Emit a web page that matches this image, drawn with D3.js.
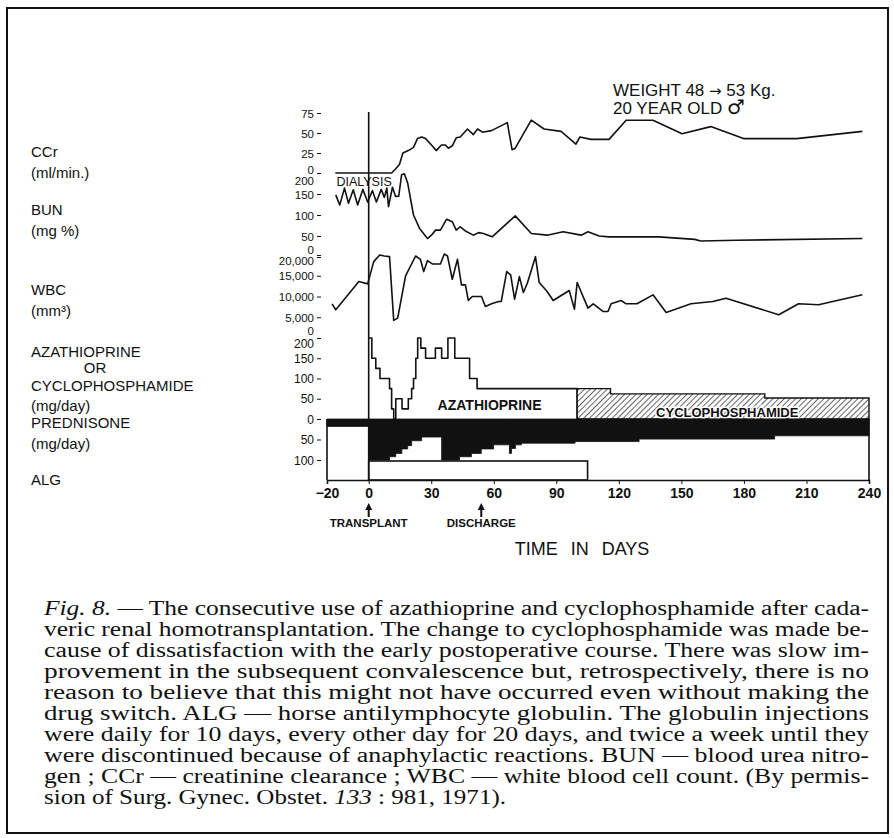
<!DOCTYPE html>
<html>
<head>
<meta charset="utf-8">
<script src="https://cdn.jsdelivr.net/npm/d3@7"></script>
<style>
  body { margin: 0; background: #fff; }
  text { font-family: "Liberation Sans", Arial, sans-serif; fill: #111; }
  .cap { font-family: "Liberation Serif", "Times New Roman", serif; font-size: 20px; }
</style>
</head>
<body>
<div id="chart"></div>
<script>
// ---- data ----
const ccrDays = [-16, 11, 12.9, 14.8, 16.4, 19, 21.5, 23.4, 25.4, 27.3, 29.8, 32.4, 34.9, 36.8, 38.2, 40.1, 42, 43.9, 47.4, 50.2, 52.2, 54.6, 58.9, 66.5, 68.8, 70.3, 78, 84.1, 92.3, 99.4, 101.3, 106.7, 115.3, 123.5, 136.4, 150.3, 164.1, 179.8, 205.3, 236.8];
const ccrValues = [0, 0, 5, 11, 25, 28, 32, 43, 45, 43, 36, 28, 35, 35, 31, 34, 44, 45, 55, 48, 55, 51, 53, 63, 29, 31, 66, 55, 52, 36, 45, 42, 42, 66, 66, 49, 58, 43, 43, 52];

const bunDays = [-15.8, -13.9, -11.6, -9.7, -7.4, -5.3, -2.8, -0.5, 1.8, 3.7, 6, 7.5, 8.7, 9.5, 11.4, 12.9, 14.4, 15.8, 17.1, 18.7, 21.5, 24.4, 28.2, 30.1, 32.1, 34.4, 37.4, 40.1, 42, 43.9, 46.4, 50.2, 52.7, 55, 59.2, 70.3, 78, 85.6, 93.3, 101.9, 105.2, 110.5, 115.3, 139.2, 156.4, 159.3, 176.5, 236.8];
const bunValues = [148, 124, 164, 128, 160, 124, 161, 131, 158, 131, 161, 142, 164, 120, 166, 144, 145, 196, 198, 176, 100, 68, 44, 52, 64, 64, 90, 84, 64, 72, 62, 52, 58, 56, 48, 98, 56, 52, 60, 52, 60, 50, 48, 48, 42, 38, 40, 44];

const wbcDays = [-17.6, -15.8, -4.7, -0.5, 2.4, 5.3, 7.5, 10, 12, 13.9, 17.7, 22.5, 24.8, 26.4, 28.2, 30.5, 34.4, 36.3, 37.8, 40.1, 42.6, 44.5, 46.4, 47.8, 49.7, 54.1, 56, 58.9, 62.3, 63.6, 66.2, 68.1, 70, 72.3, 74.2, 76.1, 80, 81.8, 85.6, 88.5, 96.2, 98.7, 100, 105.2, 107.7, 112.4, 114.8, 116.3, 121.1, 123.5, 128.7, 136.4, 142.7, 154.6, 165.1, 171.4, 196.7, 206.2, 215.8, 236.8];
const wbcValues = [8240, 6800, 13600, 13040, 18400, 20000, 19760, 19600, 4240, 4800, 14960, 19760, 18960, 16000, 18640, 17840, 17840, 20240, 19760, 14160, 18960, 12800, 12800, 9040, 10000, 10000, 7600, 8240, 8800, 8800, 16000, 15200, 9360, 14800, 10960, 13200, 19600, 13360, 11200, 9040, 11440, 6960, 13360, 7200, 8240, 6400, 6400, 8240, 9040, 8240, 8240, 10400, 6160, 8240, 8800, 9600, 5600, 8240, 8000, 10400];

// step series: value holds from this day until the next
const azaDays = [0, 1.5, 3.4, 5.4, 10, 11, 12, 13, 16, 19, 20.6, 21.5, 22.6, 23.5, 25, 27.3, 32, 35, 38, 41.3, 44.6, 48.4, 52, 100];
const azaValues = [200, 150, 125, 100, 75, 25, 0, 50, 25, 50, 75, 100, 150, 200, 175, 150, 175, 150, 200, 150, 150, 100, 75, 75];
const cycDays = [100, 116, 190, 240];
const cycValues = [75, 62, 52, 52];
const predDays = [-20, 0, 10, 13, 15.9, 18.7, 20.6, 25.4, 35, 43.6, 49.3, 54, 59.9, 67.5, 68.5, 70.4, 73.3, 80, 99, 129.7, 194.7, 240];
const predValues = [18, 100, 92, 84, 73, 65, 53, 44, 100, 92, 84, 73, 63, 84, 72, 63, 59, 59, 55, 49, 41, 41];
const algDays = [0, 105];

const dayTicks = [-20, 0, 30, 60, 90, 120, 150, 180, 210, 240];
const ccrTicks = [0, 25, 50, 75];
const bunTicks = [0, 50, 100, 150, 200];
const wbcTicks = [0, 5000, 10000, 15000, 20000];
const azaTicks = [0, 50, 100, 150, 200];
const predTicks = [50, 100];
const markers = [{ day: 0, label: "TRANSPLANT" }, { day: 54, label: "DISCHARGE" }];

const caption = [
  "Fig. 8. — The consecutive use of azathioprine and cyclophosphamide after cada-",
  "veric renal homotransplantation. The change to cyclophosphamide was made be-",
  "cause of dissatisfaction with the early postoperative course. There was slow im-",
  "provement in the subsequent convalescence but, retrospectively, there is no",
  "reason to believe that this might not have occurred even without making the",
  "drug switch. ALG — horse antilymphocyte globulin. The globulin injections",
  "were daily for 10 days, every other day for 20 days, and twice a week until they",
  "were discontinued because of anaphylactic reactions. BUN — blood urea nitro-",
  "gen ; CCr — creatinine clearance ; WBC — white blood cell count. (By permis-",
  "sion of Surg. Gynec. Obstet. 133 : 981, 1971)."
];

const W = 894, H = 838;
const svg = d3.select("#chart").append("svg").attr("width", W).attr("height", H);

const defs = svg.append("defs");
const pat = defs.append("pattern").attr("id", "hatch").attr("patternUnits", "userSpaceOnUse")
  .attr("width", 4).attr("height", 4).attr("patternTransform", "rotate(45)");
pat.append("rect").attr("width", 4).attr("height", 4).attr("fill", "#fff");
pat.append("line").attr("x1", 0).attr("y1", 0).attr("x2", 0).attr("y2", 4)
  .attr("stroke", "#111").attr("stroke-width", 1.3);

// frame
svg.append("rect").attr("x", 7).attr("y", 8).attr("width", 881).attr("height", 825)
  .attr("fill", "none").attr("stroke", "#111").attr("stroke-width", 2);

const x = d3.scaleLinear().domain([-20, 240]).range([327, 869]);
const yCcr = d3.scaleLinear().domain([0, 75]).range([173, 113]);
const yBun = d3.scaleLinear().domain([0, 200]).range([257, 173]);
const yWbc = d3.scaleLinear().domain([0, 20000]).range([338, 255]);
const yAza = d3.scaleLinear().domain([0, 200]).range([419, 338]);
const yPred = d3.scaleLinear().domain([0, 100]).range([419, 460]);
const algTop = 461, axisY = 480;

const line = (xs, ys, sy) => d3.line().x((d, i) => x(xs[i])).y((d, i) => sy(ys[i]))(xs);
const stroke = { fill: "none", stroke: "#111", "stroke-width": 1.6, "stroke-linejoin": "round" };
function path(d, attrs) {
  const p = svg.append("path").attr("d", d);
  Object.entries(attrs).forEach(([k, v]) => p.attr(k, v));
  return p;
}

// left-side axes with compressed end labels (as in the original)
function leftAxis(scale, ticks, fmt, nudge, size) {
  const g = svg.append("g").attr("transform", `translate(${x(-20) - 6},0)`)
    .call(d3.axisLeft(scale).tickValues(ticks).tickFormat(fmt).tickSize(4).tickPadding(3));
  g.select(".domain").remove();
  g.selectAll("line").attr("stroke", "#111");
  g.selectAll("text").attr("font-size", size || 12).attr("fill", "#111")
    .attr("dy", d => (nudge[d] || 0) + 4 + "px");
  return g;
}
const comma = d3.format(",");
leftAxis(yCcr, ccrTicks, d3.format("d"), { 0: -4 }, 11.5);
leftAxis(yBun, bunTicks, d3.format("d"), { 200: 7, 0: -8 }, 11.5);
leftAxis(yWbc, wbcTicks, comma, { 20000: 5, 0: -8 }, 11.5);
leftAxis(yAza, azaTicks, d3.format("d"), { 200: 5 });
leftAxis(yPred, predTicks, d3.format("d"), {});

// CCr
path(line(ccrDays, ccrValues, yCcr), stroke);
svg.append("text").attr("x", x(-15.5)).attr("y", yCcr(0) + 13).attr("font-size", 12.5).text("DIALYSIS");
// BUN
path(line(bunDays, bunValues, yBun), stroke);
// WBC
path(line(wbcDays, wbcValues, yWbc), stroke);

// azathioprine / cyclophosphamide steps
const step = d3.line().curve(d3.curveStepAfter).x((d, i) => x(d[0])).y(d => d[1]);
const azaPts = azaDays.map((d, i) => [d, yAza(azaValues[i])]);
path(step(azaPts) + `L${x(100)},${yAza(0)}`, stroke);
const cycPts = cycDays.map((d, i) => [d, yAza(cycValues[i])]);
path(step(cycPts) + `L${x(240)},${yAza(0)}L${x(100)},${yAza(0)}Z`,
  { fill: "url(#hatch)", stroke: "#111", "stroke-width": 1.4 });
svg.append("text").attr("x", x(58)).attr("y", yAza(22)).attr("text-anchor", "middle")
  .attr("font-size", 14).attr("font-weight", "bold").text("AZATHIOPRINE");
svg.append("text").attr("x", x(172)).attr("y", yAza(5)).attr("text-anchor", "middle")
  .attr("font-size", 13).attr("font-weight", "bold").attr("fill", "#fff")
  .attr("stroke", "#fff").attr("stroke-width", 3).text("CYCLOPHOSPHAMIDE");
svg.append("text").attr("x", x(172)).attr("y", yAza(5)).attr("text-anchor", "middle")
  .attr("font-size", 13).attr("font-weight", "bold").text("CYCLOPHOSPHAMIDE");

// prednisone (black area below 0)
const predArea = d3.area().curve(d3.curveStepAfter)
  .x((d, i) => x(predDays[i])).y0(yPred(0)).y1((d, i) => yPred(predValues[i]));
path(predArea(predDays), { fill: "#111", stroke: "#111", "stroke-width": 0.8 });

// ALG box
svg.append("rect").attr("x", x(algDays[0])).attr("y", algTop)
  .attr("width", x(algDays[1]) - x(algDays[0])).attr("height", axisY - algTop)
  .attr("fill", "none").attr("stroke", "#111").attr("stroke-width", 1.6);

// frame pieces of lower panels
path(`M${x(-20)},${yAza(0)}V${axisY}M${x(240)},${yAza(0)}V${axisY}`, stroke);
// day-0 vertical line
path(`M${x(0)},${yCcr(75) - 1}V${axisY}`, stroke);

// x axis
const xg = svg.append("g").attr("transform", `translate(0,${axisY})`)
  .call(d3.axisBottom(x).tickValues(dayTicks).tickSize(4).tickPadding(4));
xg.select(".domain").attr("stroke", "#111").attr("stroke-width", 1.6);
xg.selectAll("line").attr("stroke", "#111");
xg.selectAll("text").attr("font-size", 14).attr("fill", "#111").attr("font-weight", "bold");

// markers
markers.forEach(m => {
  const mx = x(m.day);
  path(`M${mx},${axisY + 37}V${axisY + 28}`, { stroke: "#111", "stroke-width": 2, fill: "none" });
  path(`M${mx - 3.5},${axisY + 30}L${mx},${axisY + 23}L${mx + 3.5},${axisY + 30}Z`, { fill: "#111" });
  svg.append("text").attr("x", mx).attr("y", axisY + 47).attr("text-anchor", "middle")
    .attr("font-size", 11.5).attr("font-weight", "bold").text(m.label);
});
svg.append("text").attr("x", 582).attr("y", 555).attr("text-anchor", "middle")
  .attr("font-size", 18).attr("word-spacing", 8).text("TIME IN DAYS");

// left labels
const labels = [
  ["CCr", 157], ["(ml/min.)", 178], ["BUN", 215], ["(mg %)", 236], ["WBC", 295], ["(mm³)", 316],
  ["AZATHIOPRINE", 357], ["CYCLOPHOSPHAMIDE", 391], ["(mg/day)", 411], ["PREDNISONE", 428],
  ["(mg/day)", 449], ["ALG", 485]
];
labels.forEach(([t, yy]) => svg.append("text").attr("x", 31).attr("y", yy).attr("font-size", 15).text(t));
svg.append("text").attr("x", 95).attr("y", 373).attr("font-size", 15).attr("text-anchor", "middle").text("OR");

// header
const h1 = svg.append("text").attr("x", 613).attr("y", 96).attr("font-size", 17);
h1.append("tspan").text("WEIGHT  48 ");
h1.append("tspan").attr("font-family", "DejaVu Sans").attr("font-size", 15).text("→");
h1.append("tspan").text("  53 Kg.");
const h2 = svg.append("text").attr("x", 613).attr("y", 114).attr("font-size", 17);
h2.append("tspan").text("20  YEAR  OLD ");
h2.append("tspan").attr("font-family", "DejaVu Sans").attr("font-size", 20).text("♂");

// caption
caption.forEach((t, i) => {
  const last = i === caption.length - 1;
  const tx = svg.append("text").attr("class", "cap").attr("x", 44).attr("y", 615 + i * 21)
    .attr("textLength", last ? 462 : 825).attr("lengthAdjust", "spacingAndGlyphs");
  if (i === 0) {
    tx.append("tspan").attr("font-style", "italic").text("Fig. 8.");
    tx.append("tspan").text(t.slice(7));
  } else if (last) {
    tx.append("tspan").text("sion of Surg. Gynec. Obstet. ");
    tx.append("tspan").attr("font-style", "italic").text("133");
    tx.append("tspan").text(" : 981, 1971).");
  } else tx.text(t);
});
</script>
</body>
</html>
